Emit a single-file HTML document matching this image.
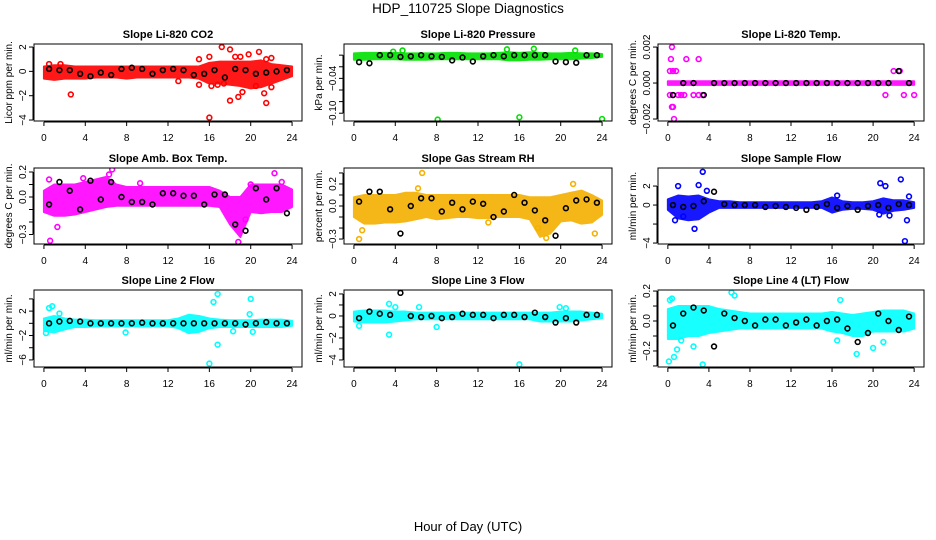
<!DOCTYPE html>
<html><head><meta charset="utf-8"><style>
body{margin:0;background:#fff}
svg{display:block;font-family:"Liberation Sans",sans-serif}
</style></head><body>
<svg id="chart" width="936" height="540" viewBox="0 0 936 540" xmlns="http://www.w3.org/2000/svg">
<rect width="936" height="540" fill="#fff"/>
<text x="468" y="13" text-anchor="middle" font-size="13.5">HDP_110725  Slope Diagnostics</text>
<text x="468" y="531" text-anchor="middle" font-size="13">Hour of Day (UTC)</text>
</svg>
<script>
// ---------- data ----------
const hours = [0,1,2,3,4,5,6,7,8,9,10,11,12,13,14,15,16,17,18,19,20,21,22,23,24];
const blackHours = [0.5,1.5,2.5,3.5,4.5,5.5,6.5,7.5,8.5,9.5,10.5,11.5,12.5,13.5,14.5,15.5,16.5,17.5,18.5,19.5,20.5,21.5,22.5,23.5];
const xTicks = [0,4,8,12,16,20,24];

const titles = ["Slope Li-820 CO2","Slope Li-820 Pressure","Slope Li-820 Temp.","Slope Amb. Box Temp.","Slope Gas Stream RH","Slope Sample Flow","Slope Line 2 Flow","Slope Line 3 Flow","Slope Line 4 (LT) Flow"];
const yTitles = ["Licor ppm per min.","kPa per min.","degrees C per min.","degrees C per min.","percent per min.","ml/min per min.","ml/min per min.","ml/min per min.","ml/min per min."];
const colors = ["#ff0000","#00e000","#ff00ff","#ff00ff","#f5b000","#0000ff","#00ffff","#00ffff","#00ffff"];

const yRanges = [[-4.08,2.25],[-0.1134,0.0192],[-0.00211,0.00217],[-0.376,0.232],[-0.345,0.345],[-4.1,3.9],[-7.16,5.46],[-4.64,2.36],[-0.307,0.207]];
const yTickVals = [[-4,-2,0,2],[-0.1,-0.08,-0.06,-0.04,-0.02,0],[-0.002,0,0.002],[-0.3,-0.2,-0.1,0,0.1,0.2],[-0.3,-0.2,-0.1,0,0.1,0.2,0.3],[-4,-2,0,2],[-6,-4,-2,0,2,4],[-4,-3,-2,-1,0,1,2],[-0.3,-0.2,-0.1,0,0.1,0.2]];
const yTickLabels = [["−4","−2","0","2"],["−0.10","","","−0.04","",""],["−0.002","0.000","0.002"],["−0.3","","","0.0","","0.2"],["−0.3","","","0.0","","0.2",""],["−4","","0","2"],["−6","","−2","","2",""],["−4","","−2","","0","","2"],["","−0.2","","0.0","","0.2"]];

// band low / high per hour
const bandLo = [
 [-0.6,-0.7,-0.6,-0.6,-0.6,-0.5,-0.5,-0.5,-0.6,-0.5,-0.5,-0.5,-0.5,-0.5,-0.5,-0.6,-1.0,-1.0,-1.1,-1.2,-1.4,-1.3,-1.0,-0.7,-0.4],
 [-0.008,-0.008,-0.007,-0.007,-0.007,-0.008,-0.008,-0.008,-0.007,-0.007,-0.007,-0.007,-0.007,-0.007,-0.007,-0.009,-0.009,-0.008,-0.008,-0.007,-0.007,-0.007,-0.006,-0.005,-0.003],
 [-0.0001,-0.0001,-0.0001,-0.0001,-0.0001,-0.0001,-0.0001,-0.0001,-0.0001,-0.0001,-0.0001,-0.0001,-0.0001,-0.0001,-0.0001,-0.0001,-0.0001,-0.0001,-0.0001,-0.0001,-0.0001,-0.0001,-0.0001,-0.0001,-0.0001],
 [-0.12,-0.15,-0.15,-0.14,-0.12,-0.1,-0.08,-0.07,-0.07,-0.07,-0.07,-0.07,-0.07,-0.07,-0.07,-0.07,-0.07,-0.08,-0.22,-0.32,-0.12,-0.13,-0.12,-0.12,-0.08],
 [-0.1,-0.16,-0.16,-0.15,-0.15,-0.14,-0.12,-0.1,-0.12,-0.11,-0.1,-0.1,-0.11,-0.11,-0.1,-0.1,-0.1,-0.12,-0.28,-0.25,-0.14,-0.13,-0.16,-0.15,-0.08],
 [-0.5,-1.4,-1.6,-1.5,-0.8,-0.3,-0.3,-0.3,-0.3,-0.3,-0.3,-0.3,-0.3,-0.3,-0.3,-0.3,-0.8,-0.5,-0.4,-0.4,-0.5,-0.9,-0.6,-0.5,-0.3],
 [-1.2,-1.5,-1.0,-0.6,-0.6,-0.5,-0.5,-0.5,-0.5,-0.5,-0.5,-0.5,-0.5,-0.8,-1.6,-1.4,-0.8,-0.6,-0.6,-0.6,-0.6,-0.6,-0.6,-0.6,-0.4],
 [-0.5,-0.6,-0.6,-0.6,-0.5,-0.4,-0.3,-0.3,-0.3,-0.3,-0.3,-0.3,-0.3,-0.3,-0.3,-0.3,-0.3,-0.3,-0.5,-0.5,-0.5,-0.5,-0.4,-0.3,-0.2],
 [-0.12,-0.12,-0.1,-0.1,-0.08,-0.07,-0.06,-0.05,-0.05,-0.05,-0.05,-0.05,-0.05,-0.05,-0.05,-0.05,-0.07,-0.08,-0.1,-0.1,-0.07,-0.07,-0.07,-0.07,-0.05]];
const bandHi = [
 [0.4,0.5,0.5,0.4,0.4,0.4,0.4,0.4,0.4,0.4,0.4,0.4,0.4,0.4,0.4,0.4,0.7,0.8,0.8,0.8,0.8,0.9,0.6,0.5,0.4],
 [0.003,0.004,0.004,0.004,0.004,0.003,0.003,0.003,0.003,0.004,0.004,0.003,0.003,0.003,0.004,0.005,0.004,0.005,0.004,0.003,0.003,0.004,0.003,0.003,0.002],
 [0.0001,0.0001,0.0001,0.0001,0.0001,0.0001,0.0001,0.0001,0.0001,0.0001,0.0001,0.0001,0.0001,0.0001,0.0001,0.0001,0.0001,0.0001,0.0001,0.0001,0.0001,0.0001,0.0001,0.0001,0.0001],
 [0.05,0.1,0.1,0.1,0.12,0.14,0.16,0.1,0.08,0.08,0.08,0.08,0.08,0.08,0.08,0.08,0.08,0.05,0.0,0.0,0.1,0.1,0.1,0.1,0.06],
 [0.08,0.1,0.1,0.1,0.1,0.12,0.12,0.1,0.1,0.1,0.1,0.1,0.1,0.1,0.1,0.1,0.1,0.08,0.08,0.08,0.1,0.12,0.14,0.1,0.05],
 [0.6,1.0,0.9,1.0,0.6,0.4,0.4,0.3,0.3,0.3,0.3,0.3,0.3,0.3,0.3,0.4,0.8,0.4,0.3,0.3,0.4,0.7,0.5,0.5,0.3],
 [0.8,1.2,0.8,0.6,0.6,0.5,0.5,0.5,0.5,0.5,0.5,0.5,0.5,0.8,1.4,1.2,0.8,0.6,0.5,0.5,0.5,0.6,0.6,0.6,0.4],
 [0.4,0.5,0.5,0.5,0.4,0.4,0.3,0.3,0.3,0.3,0.3,0.3,0.3,0.3,0.3,0.3,0.3,0.3,0.3,0.3,0.4,0.4,0.4,0.3,0.2],
 [0.08,0.1,0.1,0.1,0.1,0.08,0.07,0.06,0.05,0.05,0.05,0.05,0.05,0.05,0.05,0.05,0.06,0.05,0.04,0.05,0.06,0.07,0.07,0.07,0.05]];

// colored outliers
const outX = [
 [2.6,16,17.2,18,18.5,19,19.8,20.8,21.5,22,18,18.8,19.2,21.3,21.5,22,15,15,16.2,16.8,17.4,16,20.5,13,0.5,1.6],
 [8.1,16,24,4.7,14.8,17.4,21.4,3.8],
 [0.4,0.3,1.8,3,0.2,0.5,0.8,22,22.6,0.2,0.5,1,1.3,1.6,2.5,3,3.4,21.2,23,24,0.4,0.5,0.6],
 [0.5,0.6,1.3,6.6,22.3,3.8,18.8,19.5,6.3,9.3,20,23],
 [0.5,6.6,21.2,23.3,18.6,13,0.8,6.2,17.8],
 [3.4,1,3,2.6,0.7,1.5,20.7,21.2,22.7,23.3,23.1,20.6,21.6,16.5,23.5,3.8],
 [0.2,0.5,0.8,16.8,16.4,20,19.9,16.8,16,7.9,20.2,18.3,1.5],
 [3.4,4,6.3,3.4,0.5,8,16,19.9,20.5],
 [0.1,0.6,3.4,0.2,0.4,6.2,6.5,16.8,0.9,2.5,18.4,20,21,16.5,1.3]];
const outY = [
 [-1.9,-3.8,2,1.8,1.2,1.2,1.4,1.6,1,1.1,-2.4,-2.1,-1.7,-1.8,-2.6,-1.3,1,-1.1,-1.2,-1.1,-1,1.2,-1.2,-0.8,0.6,0.6],
 [-0.111,-0.107,-0.11,0.008,0.01,0.011,0.008,0.006],
 [0.002,0.00133,0.00133,0.00133,0.000667,0.000667,0.000667,0.000667,0.000667,-0.000667,-0.000667,-0.000667,-0.000667,-0.000667,-0.000667,-0.000667,-0.000667,-0.000667,-0.000667,-0.000667,-0.00133,-0.00133,-0.002],
 [0.14,-0.35,-0.24,0.22,0.19,0.15,-0.36,-0.18,0.18,0.11,0.1,0.12],
 [-0.3,0.3,0.2,-0.25,-0.29,-0.15,-0.22,0.16,-0.2],
 [3.5,2,2.1,-2.5,-1.6,-1.2,2.3,2,2.7,-1.6,-3.8,-1,-1.1,1,0.9,1.5],
 [-1.6,2.5,2.8,4.8,3.5,4,1.5,-3.5,-6.6,-1.5,-1.4,-1.3,1.6],
 [1.1,0.8,0.8,-1.7,-0.9,-1,-4.4,0.8,0.7],
 [-0.27,-0.24,-0.29,0.14,0.15,0.19,0.17,0.14,-0.19,-0.17,-0.22,-0.18,-0.14,-0.13,-0.13]];

// black (hourly) series
const blackY = [
 [0.2,0.1,0.1,-0.2,-0.4,-0.1,-0.3,0.2,0.3,0.2,-0.2,0.1,0.2,0.1,-0.3,-0.2,0.1,-0.5,0.2,0.1,-0.2,-0.1,0.0,0.1],
 [-0.012,-0.014,0,0,-0.003,-0.002,0,-0.002,-0.003,-0.009,-0.004,-0.011,-0.002,0,-0.002,0,0,0,0,-0.011,-0.012,-0.013,0,0],
 [-0.000667,0,0,-0.000667,0,0,0,0,0,0,0,0,0,0,0,0,0,0,0,0,0,0,0.000667,0],
 [-0.06,0.12,0.05,-0.1,0.13,-0.02,0.12,0.0,-0.04,-0.04,-0.06,0.03,0.03,0.01,0.01,-0.06,0.02,0.02,-0.22,-0.27,0.07,-0.02,0.07,-0.13],
 [0.04,0.13,0.13,-0.03,-0.25,0.0,0.07,0.07,-0.05,0.03,-0.03,0.04,0.02,-0.1,-0.05,0.1,0.03,-0.04,-0.13,-0.27,-0.02,0.05,0.06,0.03],
 [0,-0.2,-0.1,0.4,1.4,0.1,0,0,0,-0.2,-0.1,-0.2,-0.3,-0.5,-0.2,0.1,-0.3,-0.1,-0.5,-0.1,0,-0.3,0.1,0],
 [0,0.3,0.4,0.3,0,0,0,0,0,0.1,0,0,0,0,0,0,0,0,0,-0.2,0,0.2,0,0],
 [-0.2,0.4,0.2,0.1,2.1,0,-0.1,0,-0.2,-0.1,0.2,0.1,0.1,-0.2,0.1,0.1,-0.1,0.3,-0.1,-0.6,-0.2,-0.6,0.1,0.1],
 [-0.03,0.05,0.09,0.07,-0.17,0.05,0.02,0.0,-0.03,0.01,0.01,-0.03,-0.01,0.01,-0.03,0.0,0.01,-0.05,-0.14,-0.08,0.05,0.0,-0.06,0.03]];

// ---------- drawing ----------
const NS = "http://www.w3.org/2000/svg";
const svg = document.getElementById("chart");
const colL = [34,344,658], colR = [302,612,924];
const rowT = [44,168,290], rowB = [121,244,367];
function mk(tag, attrs, parent){const e=document.createElementNS(NS,tag);for(const k in attrs)e.setAttribute(k,attrs[k]);(parent||svg).appendChild(e);return e;}

for (let p = 0; p < 9; p++) {
  const L = colL[p%3], R = colR[p%3], T = rowT[Math.floor(p/3)], B = rowB[Math.floor(p/3)];
  const [y0, y1] = yRanges[p];
  const xs = h => L + (h + 0.96) / 25.92 * (R - L);
  const ys = v => B - (v - y0) / (y1 - y0) * (B - T);
  const g = mk("g", {});
  
  
  const cp = mk("clipPath", {id: "cp"+p}, g);
  mk("rect", {x: L, y: T, width: R-L, height: B-T}, cp);
  const plot = mk("g", {"clip-path": "url(#cp"+p+")"}, g);

  // band
  let pts = hours.map((h,i)=>xs(h)+","+ys(bandHi[p][i]));
  pts = pts.concat(hours.slice().reverse().map((h,j)=>{const i=hours.length-1-j;return xs(h)+","+ys(bandLo[p][i]);}));
  const band = mk("polygon", {points: pts.join(" "), fill: colors[p], stroke: colors[p], "stroke-width": 2, "stroke-linejoin": "round", opacity: 0.9}, plot);
  
  

  // colored outliers
  outX[p].forEach((h,i)=>{
    const c = mk("circle", {cx: xs(h), cy: ys(outY[p][i]), r: 2.4, fill: "none", stroke: colors[p], "stroke-width": 1.6}, plot);
    
    
  });
  // black points
  blackHours.forEach((h,i)=>{
    const c = mk("circle", {cx: xs(h), cy: ys(blackY[p][i]), r: 2.4, fill: "none", stroke: "#000", "stroke-width": 1.6}, plot);
    
    
  });

  // box
  const box = mk("rect", {x: L, y: T, width: R-L, height: B-T, fill: "none", stroke: "#000", "stroke-width": 1}, g);
  
  

  // x axis
  mk("line", {x1: xs(xTicks[0]), x2: xs(xTicks[xTicks.length-1]), y1: B+1, y2: B+1, stroke: "#000"}, g);
  xTicks.forEach(t=>{
    mk("line", {x1: xs(t), x2: xs(t), y1: B+1, y2: B+5, stroke: "#000"}, g);
    const tx = mk("text", {x: xs(t), y: B+20, "text-anchor": "middle", "font-size": 10}, g);
    tx.textContent = t;
    
    
  });
  // y axis
  const yt = yTickVals[p];
  mk("line", {x1: L-1, x2: L-1, y1: ys(yt[0]), y2: ys(yt[yt.length-1]), stroke: "#000"}, g);
  yt.forEach((v,i)=>{
    mk("line", {x1: L-5, x2: L-1, y1: ys(v), y2: ys(v), stroke: "#000"}, g);
    if (yTickLabels[p][i]) {
      const tx = mk("text", {x: L-8, y: ys(v), "text-anchor": "middle", "font-size": 10, transform: "rotate(-90 "+(L-8)+" "+ys(v)+")"}, g);
      tx.textContent = yTickLabels[p][i];
      
      
    }
  });
  // titles
  const tt = mk("text", {x: (L+R)/2, y: T-6, "text-anchor": "middle", "font-size": 11, "font-weight": "bold"}, g);
  tt.textContent = titles[p];
  
  
  const yl = mk("text", {x: L-22, y: (T+B)/2, "text-anchor": "middle", "font-size": 10, transform: "rotate(-90 "+(L-22)+" "+((T+B)/2)+")"}, g);
  yl.textContent = yTitles[p];
  
  
}
</script>
</body></html>
